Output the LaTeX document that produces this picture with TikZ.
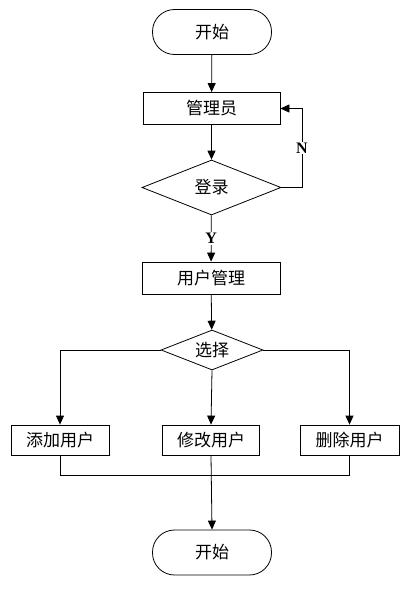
\documentclass[tikz,border=0pt]{standalone}
\usepackage{fontspec}
\newfontfamily\cjk{Noto Sans CJK SC}
\setmainfont{Liberation Serif}
\usetikzlibrary{arrows.meta,shapes.geometric}
\begin{document}
\begin{tikzpicture}[x=1pt,y=-1pt,
  line width=0.8pt,
  every node/.style={font=\cjk\fontsize{17pt}{19pt}\selectfont, inner sep=0pt},
  term/.style={draw, rounded corners=22pt, minimum width=119pt, minimum height=45pt},
  procbox/.style={draw, minimum height=32pt},
  arr/.style={-{Triangle[length=9pt,width=8pt]}},
  lbl/.style={font=\bfseries\fontsize{16pt}{18pt}\selectfont, fill=white, inner sep=1pt}]
\useasboundingbox (0,0) rectangle (418,589);
\node[term] (start) at (212,32) {开始};
\node[procbox, minimum width=137pt] (admin) at (211.5,108.5) {管理员};
\node[draw, diamond, minimum width=139pt, minimum height=55pt, inner sep=0pt, aspect=2.5] (login) at (211.5,187.5) {登录};
\node[procbox, minimum width=138pt] (um) at (211,278) {用户管理};
\node[draw, diamond, minimum width=102pt, minimum height=40pt, aspect=2.5] (sel) at (212,350) {选择};
\node[procbox, minimum width=98pt, minimum height=30pt] (add) at (60,440) {添加用户};
\node[procbox, minimum width=97pt, minimum height=30pt] (mod) at (211,440) {修改用户};
\node[procbox, minimum width=99pt, minimum height=30pt] (del) at (349.5,440) {删除用户};
\node[term] (end) at (212,552.5) {开始};
\coordinate (loopc) at (302,187.5);
\coordinate (join) at (211,475);
% connectors
\draw[arr] (start) -- (admin);
\draw[arr] (admin) -- (login);
\draw[arr] (login.east) -- (loopc) |- (admin.east) node[lbl, pos=0.25] {N};
\draw[arr] (login) -- node[lbl] {Y} (um);
\draw[arr] (um) -- (sel);
\draw[arr] (sel.west) -| (add.north);
\draw[arr] (sel.east) -| (del.north);
\draw[arr] (sel.south) -- (mod.north);
\draw (add.south) |- (join);
\draw (del.south) |- (join);
\draw[arr] (mod.south) -- (end.north);
\end{tikzpicture}
\end{document}
